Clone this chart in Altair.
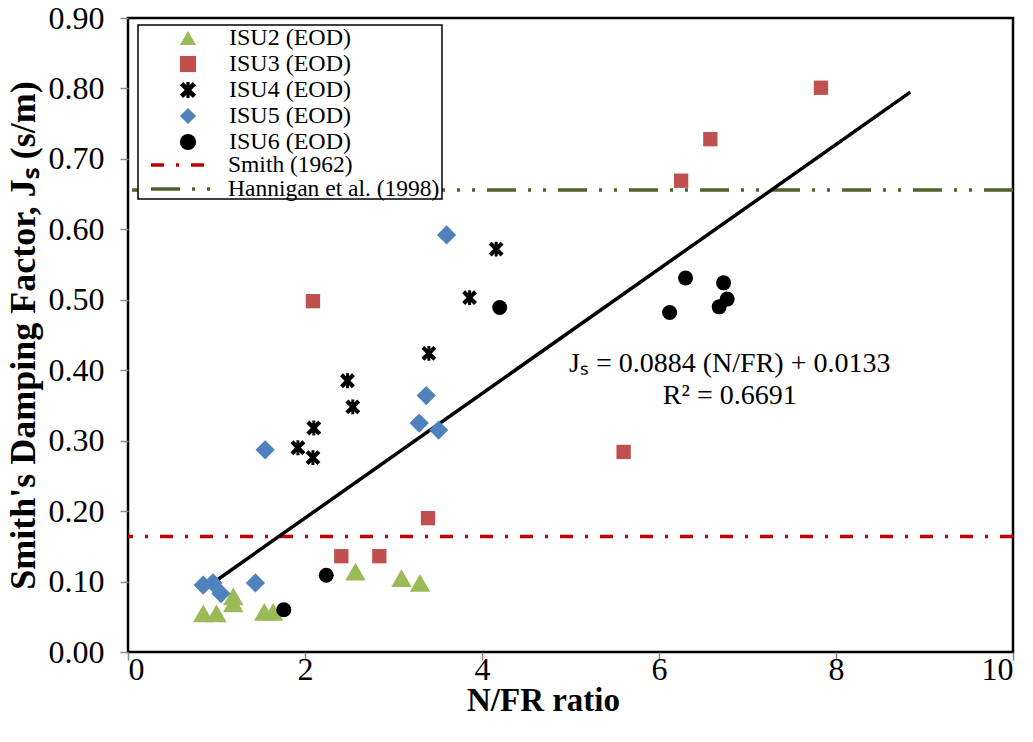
import altair as alt
import pandas as pd

# ---------------- data ----------------
series_names = ["ISU2 (EOD)", "ISU3 (EOD)", "ISU4 (EOD)", "ISU5 (EOD)", "ISU6 (EOD)"]

isu2_x = [0.85, 1.00, 1.19, 1.19, 1.54, 1.64, 2.57, 3.09, 3.30]
isu2_y = [0.055, 0.055, 0.079, 0.069, 0.057, 0.057, 0.114, 0.105, 0.098]

isu3_x = [2.09, 2.41, 2.84, 3.39, 5.60, 6.25, 6.58, 7.83]
isu3_y = [0.498, 0.136, 0.136, 0.190, 0.284, 0.669, 0.728, 0.801]

isu4_x = [1.92, 2.09, 2.10, 2.48, 2.54, 3.40, 3.86, 4.16]
isu4_y = [0.290, 0.276, 0.318, 0.385, 0.348, 0.424, 0.503, 0.572]

isu5_x = [0.85, 0.96, 1.05, 1.44, 1.55, 3.29, 3.37, 3.51, 3.60]
isu5_y = [0.095, 0.098, 0.083, 0.098, 0.287, 0.325, 0.364, 0.315, 0.592]

isu6_x = [1.76, 2.24, 4.20, 6.12, 6.30, 6.68, 6.73, 6.77]
isu6_y = [0.060, 0.109, 0.489, 0.482, 0.531, 0.490, 0.524, 0.501]

ref_names = ["Smith (1962)", "Hannigan et al. (1998)"]
ref_values = [0.164, 0.656]

trend_slope = 0.0884
trend_intercept = 0.0133
trend_x = [0.85, 8.84]

eq_lines = "J\u209b = 0.0884 (N/FR) + 0.0133\nR\u00b2 = 0.6691"
eq_x = [6.80]
eq_y = [0.409]

x_ticks = [0, 2, 4, 6, 8, 10]
y_ticks = [0.0, 0.1, 0.2, 0.3, 0.4, 0.5, 0.6, 0.7, 0.8, 0.9]

# ---------------- styling ----------------
FONT = "Liberation Serif"
point_colors = ["#9BBB59", "#C0504D", "#000000", "#4F81BD", "#000000"]
star_path = ("M-1,-0.6L-0.6,-1L1,0.6L0.6,1Z"
             "M0.6,-1L1,-0.6L-0.6,1L-1,0.6Z"
             "M-0.2,-1L0.2,-1L0.2,1L-0.2,1Z")
point_shapes = ["triangle-up", "square", star_path, "diamond", "circle"]
point_sizes = {"ISU2 (EOD)": 420, "ISU3 (EOD)": 205, "ISU4 (EOD)": 220,
               "ISU5 (EOD)": 370, "ISU6 (EOD)": 225}
ref_colors = ["#C00000", "#4F6228"]
ref_dashes = [[13, 12, 3, 12], [29, 12, 3, 12, 3, 12]]
ref_legend_pos = [(21, 115), (21, 139)]

rows = []
for name, xs, ys in zip(series_names,
                        [isu2_x, isu3_x, isu4_x, isu5_x, isu6_x],
                        [isu2_y, isu3_y, isu4_y, isu5_y, isu6_y]):
    for xv, yv in zip(xs, ys):
        rows.append({"series": name, "x": xv, "y": yv, "sz": point_sizes[name]})
pts = pd.DataFrame(rows)

trend = pd.DataFrame({"x": trend_x,
                      "y": [trend_slope * v + trend_intercept for v in trend_x]})
eq = pd.DataFrame({"x": eq_x, "y": eq_y, "t": [eq_lines]})

xscale = alt.Scale(domain=[0, 10], nice=False, zero=False)
yscale = alt.Scale(domain=[0, 0.9], nice=False, zero=False)

x_axis = alt.Axis(values=x_ticks, format="d", title="N/FR ratio",
                  titleX=415, titleY=58, titleBaseline="alphabetic",
                  titleFontSize=33, labelPadding=-6)
y_axis = alt.Axis(values=y_ticks, format=".2f",
                  title="Smith's Damping Factor, J\u209b (s/m)",
                  titleX=-105, titleBaseline="middle", titleAlign="center",
                  titleFontSize=36, labelPadding=16)

ref_layers = []
for i, (nm, val) in enumerate(zip(ref_names, ref_values)):
    lx, ly = ref_legend_pos[i]
    leg = alt.Legend(orient="none", legendX=lx, legendY=ly, title=None,
                     symbolType="stroke", symbolSize=3600, symbolStrokeWidth=3.5,
                     labelOffset=15, padding=0, labelFontSize=23.5)
    df = pd.DataFrame({"ref": [nm], "value": [val]})
    ref_layers.append(
        alt.Chart(df).mark_rule(strokeWidth=3.5).encode(
            y=alt.Y("value:Q", scale=yscale, axis=y_axis),
            color=alt.Color("ref:N", scale=alt.Scale(domain=[nm], range=[ref_colors[i]]),
                            legend=leg),
            strokeDash=alt.StrokeDash("ref:N",
                                      scale=alt.Scale(domain=[nm], range=[ref_dashes[i]]),
                                      legend=leg),
        )
    )

legend_box = alt.Chart(pd.DataFrame({"a": [0]})).mark_rect(
    fill="white", fillOpacity=1, stroke="black", strokeWidth=1.5
).encode(x=alt.value(10), x2=alt.value(314), y=alt.value(7), y2=alt.value(181))

trend_layer = alt.Chart(trend).mark_line(color="black", strokeWidth=3.5).encode(
    x=alt.X("x:Q", scale=xscale, axis=x_axis),
    y=alt.Y("y:Q", scale=yscale, axis=y_axis),
)

pt_legend = alt.Legend(orient="none", legendX=48, legendY=8, title=None,
                       symbolSize=260, symbolStrokeWidth=0, labelOffset=29,
                       rowPadding=2, padding=0)
points_layer = alt.Chart(pts).mark_point(filled=True, opacity=1, strokeWidth=0).encode(
    x=alt.X("x:Q", scale=xscale, axis=x_axis),
    y=alt.Y("y:Q", scale=yscale, axis=y_axis),
    color=alt.Color("series:N", scale=alt.Scale(domain=series_names, range=point_colors),
                    legend=pt_legend),
    shape=alt.Shape("series:N", scale=alt.Scale(domain=series_names, range=point_shapes),
                    legend=pt_legend),
    size=alt.Size("sz:Q", scale=None, legend=None),
)

eq_layer = alt.Chart(eq).mark_text(font=FONT, fontSize=28, align="center",
                                   baseline="middle", lineBreak="\n",
                                   lineHeight=32, color="black").encode(
    x=alt.X("x:Q", scale=xscale, axis=x_axis),
    y=alt.Y("y:Q", scale=yscale, axis=y_axis),
    text="t:N",
)

chart = alt.layer(
    *ref_layers, trend_layer, points_layer, eq_layer, legend_box
).resolve_scale(
    color="independent", shape="independent", strokeDash="independent"
).properties(
    width=885, height=634,
    autosize=alt.AutoSizeParams(type="none"),
    padding={"left": 120, "top": 10, "right": 12, "bottom": 80},
    background="white",
).configure_view(
    stroke="black", strokeWidth=2.5
).configure_axis(
    grid=False, domain=False, ticks=True, tickColor="#888888", tickSize=8,
    tickWidth=1.5,
    labelFont=FONT, labelFontSize=32, labelColor="black",
    titleFont=FONT, titleFontWeight="bold", titleColor="black",
).configure_legend(
    labelFont=FONT, labelFontSize=24, labelColor="black", labelLimit=400,
)

chart.save("out.html", embed_options={"renderer": "svg", "actions": False})
